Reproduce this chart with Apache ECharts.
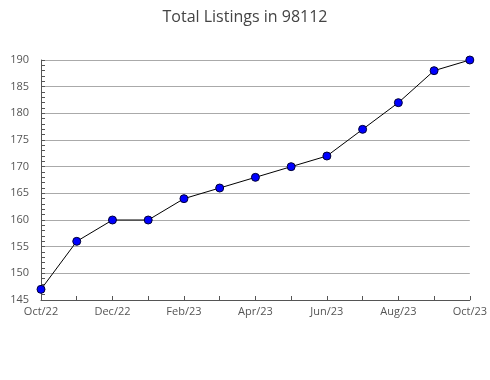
<!DOCTYPE html>
<html><head><meta charset="utf-8">
<script src="https://cdn.jsdelivr.net/npm/echarts@6/dist/echarts.min.js"></script>
<style>html,body{margin:0;padding:0;background:#fff}#c{width:490px;height:380px}</style>
</head><body><div id="c"></div>
<script>
const title = "Total Listings in 98112";
const months = ["Oct/22","Nov/22","Dec/22","Jan/23","Feb/23","Mar/23","Apr/23","May/23","Jun/23","Jul/23","Aug/23","Sep/23","Oct/23"];
const listings = [147,156,160,160,164,166,168,170,172,177,182,188,190];
const yMin = 145, yMax = 190, yStep = 5;

const chart = echarts.init(document.getElementById('c'), null, {renderer:'canvas'});
chart.setOption({
  animation:false,
  title:{text:title,left:'center',top:4,textStyle:{fontFamily:'Open Sans',fontSize:16,fontWeight:'normal',color:'#444'}},
  grid:{left:41,right:19,top:60,bottom:80},
  xAxis:{type:'category',data:months,boundaryGap:false,
    axisLine:{lineStyle:{color:'#555'}},
    axisTick:{show:true,inside:true,length:4,interval:0,lineStyle:{color:'#555'}},
    axisLabel:{interval:1,color:'#555',fontFamily:'Open Sans',fontSize:11,margin:6},
    splitLine:{show:false}},
  yAxis:{type:'value',min:yMin,max:yMax,interval:yStep,
    axisLine:{show:true,lineStyle:{color:'#555'}},
    axisTick:{show:true,inside:true,length:4,lineStyle:{color:'#555'}},
    minorTick:{show:true,splitNumber:5,length:4,lineStyle:{color:'#555'}},
    axisLabel:{color:'#555',fontFamily:'Open Sans',fontSize:11,margin:12},
    splitLine:{show:true,lineStyle:{color:'#aaa',width:1}}},
  series:[{type:'line',data:listings,symbol:'circle',symbolSize:8,
    lineStyle:{color:'#000',width:1},
    itemStyle:{color:'#0000ff',borderColor:'#000033',borderWidth:1}}]
});
</script></body></html>
